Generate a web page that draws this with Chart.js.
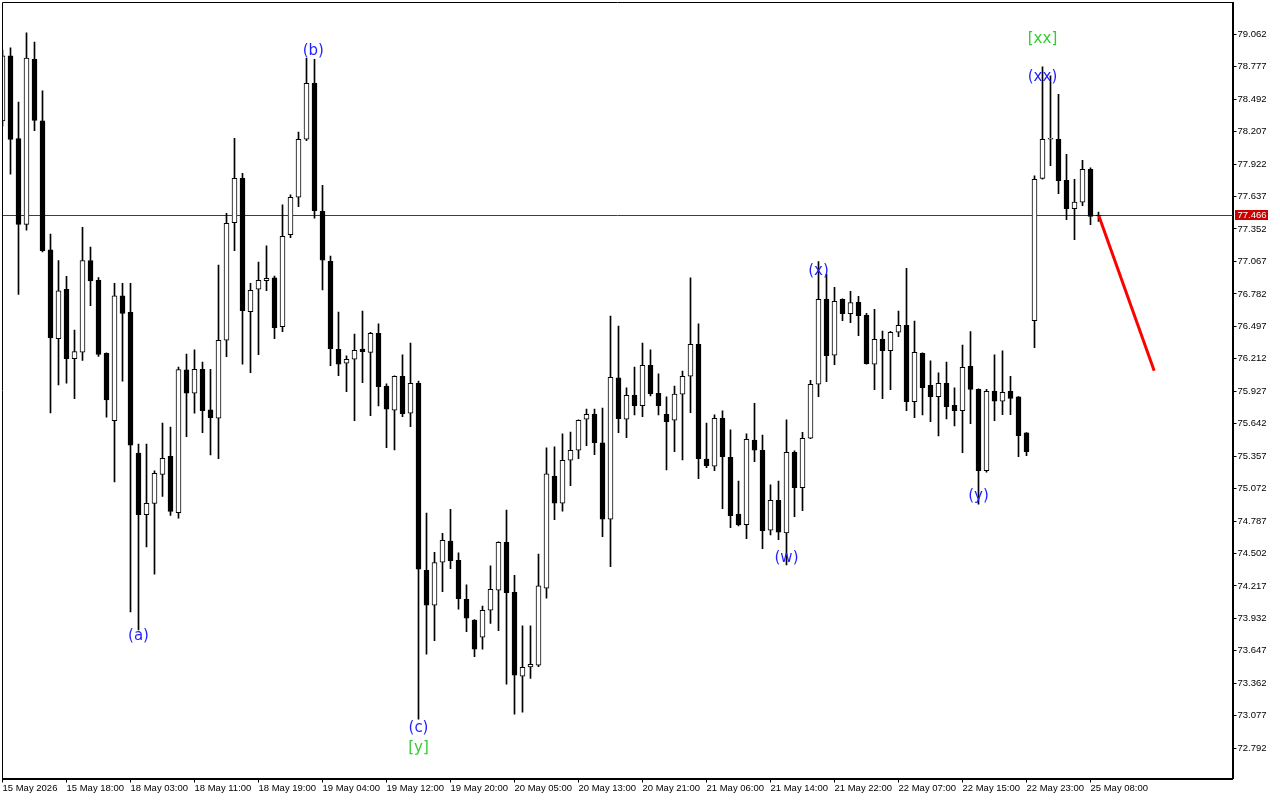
<!DOCTYPE html>
<html>
<head>
<meta charset="utf-8">
<title>H1 candles</title>
<script src="https://cdn.jsdelivr.net/npm/chart.js@4.4.1/dist/chart.umd.min.js"></script>
<style>
  html, body { margin: 0; padding: 0; background: #fff; }
</style>
</head>
<body>
<canvas id="chart" width="1280" height="800"></canvas>
<script>
'use strict';

// H1 bars, one per hour (weekend gap between 22 May 23:00 and 25 May)
const openP = [
  78.301, 78.873, 78.146, 77.393, 78.842, 78.301, 77.169, 76.389, 76.822, 76.212,
  76.271, 77.075, 76.902, 76.261, 75.668, 76.766, 76.621, 75.384, 74.843, 74.941,
  75.196, 75.356, 74.861, 76.114, 75.909, 76.120, 75.763, 75.690, 76.375, 77.407,
  77.797, 76.626, 76.823, 76.898, 76.922, 76.494, 77.302, 77.631, 78.140, 78.632,
  77.508, 77.068, 76.296, 76.173, 76.208, 76.298, 76.269, 76.436, 75.973, 75.760,
  76.059, 75.734, 75.997, 74.355, 74.048, 74.425, 74.612, 74.443, 74.100, 73.918,
  73.767, 74.004, 74.179, 74.601, 74.162, 73.424, 73.506, 73.521, 74.197, 75.183,
  74.943, 75.321, 75.409, 75.681, 75.727, 75.473, 74.803, 76.044, 75.681, 75.892,
  75.800, 76.155, 75.909, 75.725, 75.672, 75.901, 76.059, 76.340, 75.332, 75.268,
  75.690, 75.347, 74.849, 74.755, 75.497, 75.409, 74.706, 74.970, 74.682, 75.391,
  75.080, 75.514, 75.988, 76.735, 76.243, 76.735, 76.608, 76.708, 76.594, 76.164,
  76.383, 76.283, 76.445, 76.506, 75.836, 76.261, 75.980, 75.879, 75.997, 75.804,
  75.756, 76.146, 75.944, 75.230, 75.927, 75.839, 75.927, 75.877, 75.561, 76.547,
  77.797, 78.140, 78.140, 77.780, 77.530, 77.587, 77.876, 77.466
];
const highP = [
  78.924, 78.943, 78.467, 79.074, 78.994, 78.565, 77.307, 77.075, 76.936, 76.465,
  77.366, 77.192, 76.926, 76.265, 76.874, 76.874, 76.874, 75.464, 75.464, 75.228,
  75.648, 75.612, 76.139, 76.254, 76.290, 76.184, 76.120, 77.036, 77.490, 78.149,
  77.841, 76.875, 77.062, 77.203, 76.939, 77.563, 77.653, 78.204, 78.851, 78.842,
  77.736, 77.115, 76.623, 76.237, 76.430, 76.632, 76.445, 76.518, 75.991, 76.062,
  76.246, 76.351, 76.017, 74.858, 74.513, 74.680, 74.891, 74.507, 74.226, 73.922,
  74.041, 74.393, 74.605, 74.884, 74.311, 73.866, 73.866, 74.498, 75.429, 75.438,
  75.552, 75.569, 75.676, 75.771, 75.771, 75.780, 76.588, 76.500, 75.958, 76.140,
  76.351, 76.290, 76.079, 75.879, 75.973, 76.105, 76.922, 76.518, 75.648, 75.719,
  75.754, 75.587, 75.139, 75.552, 75.821, 75.543, 75.104, 75.139, 75.675, 75.403,
  75.567, 76.023, 77.065, 76.954, 76.840, 76.739, 76.805, 76.761, 76.612, 76.647,
  76.456, 76.454, 76.632, 77.007, 76.544, 76.265, 76.193, 76.088, 76.184, 75.956,
  76.333, 76.450, 75.948, 75.944, 76.246, 76.281, 76.059, 75.881, 75.565, 77.818,
  78.777, 78.696, 78.535, 78.008, 77.789, 77.955, 77.890, 77.501
];
const lowP = [
  78.257, 77.833, 76.777, 77.342, 78.215, 77.151, 75.737, 75.983, 75.997, 75.862,
  76.198, 76.679, 76.232, 75.699, 75.130, 76.015, 73.990, 73.831, 74.560, 74.320,
  75.003, 74.836, 74.812, 75.528, 75.734, 75.563, 75.367, 75.335, 76.231, 77.162,
  76.164, 76.090, 76.248, 76.810, 76.389, 76.450, 77.276, 77.548, 78.128, 77.446,
  76.816, 76.152, 76.064, 75.923, 75.669, 76.002, 75.713, 75.798, 75.432, 75.411,
  75.704, 75.616, 73.046, 73.617, 73.737, 74.167, 74.369, 74.012, 73.816, 73.596,
  73.661, 73.889, 73.824, 73.354, 73.090, 73.108, 73.406, 73.508, 74.109, 74.799,
  74.873, 75.098, 75.335, 75.449, 75.370, 74.650, 74.387, 75.563, 75.519, 75.719,
  75.704, 75.886, 75.719, 75.236, 75.396, 75.324, 75.739, 75.159, 75.256, 75.230,
  74.896, 74.729, 74.744, 74.632, 75.309, 74.545, 74.665, 74.624, 74.401, 74.826,
  74.878, 75.510, 75.879, 76.011, 76.160, 76.547, 76.529, 76.415, 76.165, 75.941,
  75.862, 75.941, 76.406, 75.756, 75.695, 75.719, 75.660, 75.534, 75.684, 75.622,
  75.388, 75.642, 74.935, 75.216, 75.669, 75.721, 75.721, 75.352, 75.361, 76.310,
  77.789, 77.908, 77.662, 77.434, 77.258, 77.557, 77.390, 77.418
];
const closeP = [
  78.873, 78.139, 77.393, 78.853, 78.305, 77.162, 76.396, 76.808, 76.212, 76.275,
  77.075, 76.895, 76.250, 75.851, 76.766, 76.610, 75.453, 74.843, 74.943, 75.207,
  75.338, 74.871, 76.118, 75.909, 76.120, 75.756, 75.695, 76.375, 77.402, 77.797,
  76.635, 76.814, 76.902, 76.919, 76.485, 77.288, 77.631, 78.140, 78.632, 77.513,
  77.077, 76.301, 76.164, 76.208, 76.287, 76.275, 76.436, 75.967, 75.769, 76.059,
  75.730, 75.997, 74.364, 74.048, 74.422, 74.618, 74.439, 74.105, 73.933, 73.661,
  74.004, 74.188, 74.601, 74.158, 73.433, 73.503, 73.529, 74.217, 75.201, 74.943,
  75.321, 75.409, 75.672, 75.725, 75.475, 74.803, 76.050, 75.686, 75.892, 75.800,
  76.155, 75.906, 75.800, 75.660, 75.901, 76.059, 76.340, 75.335, 75.273, 75.690,
  75.352, 74.834, 74.753, 75.505, 75.409, 74.703, 74.970, 74.689, 75.391, 75.080,
  75.514, 75.988, 76.735, 76.239, 76.717, 76.608, 76.705, 76.591, 76.169, 76.383,
  76.283, 76.445, 76.506, 75.836, 76.269, 75.958, 75.879, 75.997, 75.792, 75.756,
  76.138, 75.944, 75.230, 75.927, 75.839, 75.918, 75.865, 75.537, 75.396, 77.789,
  78.140, 78.141, 77.776, 77.530, 77.589, 77.876, 77.462, 77.466
];

// time axis: bar index of each label
const xTickIdx = [0, 8, 16, 24, 32, 40, 48, 56, 64, 72, 80, 88, 96, 104, 112, 120, 128, 136];
const xTickLabels = [
  '15 May 2026', '15 May 18:00', '18 May 03:00', '18 May 11:00', '18 May 19:00',
  '19 May 04:00', '19 May 12:00', '19 May 20:00', '20 May 05:00', '20 May 13:00',
  '20 May 21:00', '21 May 06:00', '21 May 14:00', '21 May 22:00', '22 May 07:00',
  '22 May 15:00', '22 May 23:00', '25 May 08:00'
];
const yTickVals = [
  72.792, 73.077, 73.362, 73.647, 73.932, 74.217, 74.502, 74.787, 75.072, 75.357,
  75.642, 75.927, 76.212, 76.497, 76.782, 77.067, 77.352, 77.637, 77.922, 78.207,
  78.492, 78.777, 79.062
];
const lastPrice = 77.466;

// wave marks
const waveText  = ['(a)', '(b)', '(c)', '[y]', '(w)', '(x)', '(y)', '(xx)', '[xx]'];
const waveIdx   = [17, 38.85, 52, 52, 98, 102, 122, 130, 130];
const wavePrice = [73.773, 78.915, 72.967, 72.792, 74.460, 76.983, 75.010, 78.684, 79.021];
const waveColor = ['#1f1fff', '#1f1fff', '#1f1fff', '#32cd32', '#1f1fff', '#1f1fff', '#1f1fff', '#1f1fff', '#32cd32'];

// projected move
const arrowIdx   = [137.05, 143.96];
const arrowPrice = [77.466, 76.108];

const X_MIN = 0, X_MAX = 153.75;
const Y_MIN = 72.526, Y_MAX = 79.341;
const AXIS_FONT = { family: '"Liberation Sans", Arial, sans-serif', size: 9.5 };

const bodyData = openP.map((o, i) => ({ x: i, y: [o, closeP[i]] }));
const wickData = openP.map((o, i) => ({ x: i, y: [lowP[i], highP[i]] }));
const bodyFill = openP.map((o, i) => closeP[i] > o ? '#ffffff' : '#000000');
const arrowData = arrowIdx.map((x, i) => ({ x, y: arrowPrice[i] }));

const overlay = {
  id: 'overlay',
  beforeDatasetsDraw(chart) {
    // bid line, snapped to a pixel row
    const { ctx, chartArea: a, scales: { y } } = chart;
    const py = Math.floor(y.getPixelForValue(lastPrice)) + 0.5;
    ctx.save();
    ctx.strokeStyle = '#d00000';
    ctx.lineWidth = 1;
    ctx.beginPath();
    ctx.moveTo(a.left, py);
    ctx.lineTo(a.right, py);
    ctx.stroke();
    ctx.restore();
  },
  afterDatasetsDraw(chart) {
    const { ctx, scales: { x, y } } = chart;
    ctx.save();
    ctx.font = '15px "DejaVu Sans", sans-serif';
    ctx.textAlign = 'center';
    ctx.textBaseline = 'middle';
    waveText.forEach((t, i) => {
      ctx.fillStyle = waveColor[i];
      ctx.fillText(t, x.getPixelForValue(waveIdx[i]), y.getPixelForValue(wavePrice[i]));
    });
    ctx.restore();
  },
  afterDraw(chart) {
    const { ctx, chartArea: a, scales: { y } } = chart;
    ctx.save();
    // frame top / left
    ctx.strokeStyle = '#000';
    ctx.lineWidth = 1;
    ctx.beginPath();
    ctx.moveTo(a.left, a.bottom);
    ctx.lineTo(a.left, a.top);
    ctx.lineTo(a.right, a.top);
    ctx.stroke();
    // current price tag
    const py = Math.floor(y.getPixelForValue(lastPrice));
    ctx.fillStyle = '#c80000';
    ctx.fillRect(a.right + 2.5, py - 5, 33, 10);
    ctx.fillStyle = '#ffffff';
    ctx.font = `${AXIS_FONT.size}px ${AXIS_FONT.family}`;
    ctx.textAlign = 'left';
    ctx.textBaseline = 'middle';
    ctx.fillText(lastPrice.toFixed(3), a.right + 5, py + 0.5);
    ctx.restore();
  },
};

new Chart(document.getElementById('chart'), {
  type: 'bar',
  data: {
    datasets: [
      {
        data: wickData,
        backgroundColor: '#000000',
        barThickness: 1,
        grouped: false,
        order: 3,
      },
      {
        data: bodyData,
        backgroundColor: bodyFill,
        borderColor: '#000000',
        borderWidth: 1,
        borderSkipped: false,
        barThickness: 5,
        minBarLength: 1,
        grouped: false,
        order: 2,
      },
      {
        type: 'line',
        data: arrowData,
        borderColor: '#ff0000',
        borderWidth: 3,
        pointRadius: 0,
        order: 1,
      },
    ],
  },
  options: {
    responsive: false,
    animation: false,
    events: [],
    layout: { padding: { left: 2.5, top: 2.5, right: 0, bottom: 0 } },
    plugins: { legend: { display: false }, tooltip: { enabled: false } },
    scales: {
      x: {
        type: 'linear',
        min: X_MIN,
        max: X_MAX,
        offset: false,
        grid: { drawOnChartArea: false, drawTicks: true, tickLength: 4, color: '#000', offset: false },
        border: { display: true, color: '#000', width: 2 },
        ticks: {
          autoSkip: false,
          maxRotation: 0,
          minRotation: 0,
          align: 'start',
          padding: 0,
          color: '#000',
          font: AXIS_FONT,
          callback: (v, i) => xTickLabels[i],
        },
        afterBuildTicks: s => { s.ticks = xTickIdx.map(v => ({ value: v })); },
        afterFit: s => { s.height = 21.5; s.paddingLeft = 0; s.paddingRight = 0; },
      },
      y: {
        type: 'linear',
        position: 'right',
        min: Y_MIN,
        max: Y_MAX,
        beginAtZero: false,
        grid: { drawOnChartArea: false, drawTicks: true, tickLength: 4, color: '#000' },
        border: { display: true, color: '#000', width: 2 },
        ticks: {
          padding: 1,
          color: '#000',
          font: AXIS_FONT,
          callback: v => v.toFixed(3),
        },
        afterBuildTicks: s => { s.ticks = yTickVals.map(v => ({ value: v })); },
        afterFit: s => { s.width = 47.5; s.paddingTop = 0; s.paddingBottom = 0; },
      },
    },
  },
  plugins: [overlay],
});
</script>
</body>
</html>
